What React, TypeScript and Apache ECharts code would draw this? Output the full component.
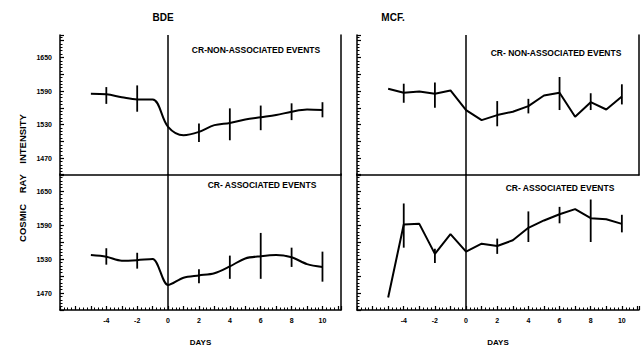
import React, { useEffect, useRef } from "react";
import * as echarts from "echarts";

// ---- data ----
const days = [-5, -4, -3, -2, -1, 0, 1, 2, 3, 4, 5, 6, 7, 8, 9, 10];
const bdeNonAssoc = [1585, 1584, 1579, 1575, 1575, 1526, 1511, 1517, 1529, 1533, 1539, 1543, 1547, 1553, 1557, 1556];
const bdeAssoc = [1537, 1534, 1527, 1528, 1530, 1484, 1497, 1501, 1505, 1517, 1531, 1535, 1537, 1533, 1521, 1516];
const mcfNonAssoc = [1594, 1587, 1589, 1585, 1591, 1556, 1538, 1547, 1553, 1563, 1582, 1587, 1544, 1570, 1557, 1580];
const mcfAssoc = [1462, 1591, 1592, 1539, 1574, 1543, 1557, 1553, 1563, 1585, 1598, 1609, 1618, 1602, 1600, 1592];

const errDays = [-4, -2, 2, 4, 6, 8, 10];
const bdeNonAssocLow = [1567, 1553, 1499, 1502, 1520, 1538, 1543];
const bdeNonAssocHigh = [1597, 1600, 1532, 1559, 1564, 1568, 1570];
const bdeAssocLow = [1520, 1513, 1487, 1495, 1495, 1516, 1490];
const bdeAssocHigh = [1549, 1541, 1512, 1536, 1576, 1550, 1543];
const mcfNonAssocLow = [1569, 1560, 1527, 1550, 1556, 1556, 1566];
const mcfNonAssocHigh = [1603, 1605, 1572, 1576, 1615, 1586, 1602];
const mcfAssocLow = [1550, 1523, 1539, 1560, 1593, 1560, 1577];
const mcfAssocHigh = [1628, 1548, 1566, 1614, 1622, 1635, 1608];

const yTickLabels = [1470, 1530, 1590, 1650];
const xTickLabels = [-4, -2, 0, 2, 4, 6, 8, 10];

const FONT = "Liberation Sans";

export default function App() {
  const ref = useRef<HTMLDivElement>(null);
  useEffect(() => {
    if (!ref.current) return;
    const chart = echarts.init(ref.current, null, { renderer: "svg" });

    const pairs = (vals: number[]) => days.map((d, i) => [d, vals[i]]);
    const errs = (lo: number[], hi: number[]) => errDays.map((d, i) => [d, lo[i], hi[i]]);

    const grids = [
      { left: 60, width: 281, top: 35, height: 140 },
      { left: 60, width: 281, top: 174, height: 136 },
      { left: 357, width: 282, top: 35, height: 140 },
      { left: 357, width: 282, top: 174, height: 136 },
    ];

    const xAxis = grids.map((_, i) => {
      const bottom = i === 1 || i === 3;
      return {
        type: "value",
        gridIndex: i,
        min: -7,
        max: i < 2 ? 11.2 : 11.1,
        interval: 1,
        splitLine: { show: false },
        axisLine: { show: true, onZero: false, lineStyle: { color: "#000", width: 1.5 } },
        axisTick: { show: bottom, inside: true, length: 4, lineStyle: { color: "#000", width: 1.2 } },
        minorTick: { show: bottom, splitNumber: 4, length: 2.5, lineStyle: { color: "#000", width: 1 } },
        axisLabel: {
          show: bottom,
          margin: 7,
          fontSize: 7,
          fontWeight: "bold",
          fontFamily: FONT,
          color: "#000",
          showMinLabel: true,
          showMaxLabel: true,
          formatter: (v: number) => (xTickLabels.includes(v) ? String(v) : ""),
        },
        name: bottom ? "DAYS" : "",
        nameLocation: "middle",
        nameGap: 28,
        nameTextStyle: { fontSize: 8, fontWeight: "bold", fontFamily: FONT, color: "#000" },
      };
    });

    const yAxisLeft = grids.map((_, i) => ({
      type: "value",
      gridIndex: i,
      position: "left",
      min: 1440,
      max: i === 0 || i === 2 ? 1690 : 1680,
      interval: 30,
      splitLine: { show: false },
      axisLine: { show: true, onZero: false, lineStyle: { color: "#000", width: 1.5 } },
      axisTick: { show: true, inside: true, length: 4, lineStyle: { color: "#000", width: 1.2 } },
      minorTick: { show: true, splitNumber: 5, length: 2.5, lineStyle: { color: "#000", width: 1 } },
      axisLabel: {
        show: i < 2,
        margin: 8,
        fontSize: 7,
        fontWeight: "bold",
        fontFamily: FONT,
        color: "#000",
        showMaxLabel: false,
        formatter: (v: number) => (yTickLabels.includes(v) ? String(v) : ""),
      },
    }));

    const yAxisRight = [0, 1, 2].map((g) => ({
      type: "value",
      gridIndex: g,
      position: "right",
      min: 1440,
      max: 1690,
      axisLine: { show: true, onZero: false, lineStyle: { color: "#000", width: 1.5 } },
      axisTick: { show: false },
      axisLabel: { show: false },
      splitLine: { show: false },
    }));

    const lineSeries = (vals: number[], idx: number, smooth: number | boolean) => ({
      type: "line",
      xAxisIndex: idx,
      yAxisIndex: idx,
      data: pairs(vals),
      smooth,
      symbol: "none",
      lineStyle: { color: "#000", width: 2 },
      markLine: {
        silent: true,
        symbol: "none",
        label: { show: false },
        lineStyle: { color: "#000", width: 1.5, type: "solid" },
        data: [{ xAxis: 0 }],
      },
    });

    const errSeries = (lo: number[], hi: number[], idx: number) => ({
      type: "custom",
      xAxisIndex: idx,
      yAxisIndex: idx,
      data: errs(lo, hi),
      renderItem: (_p: any, api: any) => {
        const x = api.value(0);
        const a = api.coord([x, api.value(1)]);
        const b = api.coord([x, api.value(2)]);
        return {
          type: "line",
          shape: { x1: a[0], y1: a[1], x2: b[0], y2: b[1] },
          style: { stroke: "#000", lineWidth: 1.8 },
        };
      },
    });

    const txt = (text: string, x: number, y: number, size: number, extra: any = {}) => ({
      type: "text",
      x,
      y,
      ...extra,
      style: {
        text,
        fill: "#000",
        font: `bold ${size}px "${FONT}"`,
        align: "center",
        verticalAlign: "middle",
      },
    });

    chart.setOption({
      animation: false,
      backgroundColor: "#fff",
      grid: grids,
      xAxis,
      yAxis: [...yAxisLeft, ...yAxisRight],
      series: [
        lineSeries(bdeNonAssoc, 0, 0.35),
        lineSeries(bdeAssoc, 1, 0.3),
        lineSeries(mcfNonAssoc, 2, false),
        lineSeries(mcfAssoc, 3, false),
        errSeries(bdeNonAssocLow, bdeNonAssocHigh, 0),
        errSeries(bdeAssocLow, bdeAssocHigh, 1),
        errSeries(mcfNonAssocLow, mcfNonAssocHigh, 2),
        errSeries(mcfAssocLow, mcfAssocHigh, 3),
      ],
      graphic: [
        txt("BDE", 163, 17, 10),
        txt("MCF.", 393, 17, 10),
        txt("CR-NON-ASSOCIATED EVENTS", 256, 50, 8.5),
        txt("CR- ASSOCIATED EVENTS", 262, 185, 8.5),
        txt("CR- NON-ASSOCIATED EVENTS", 556, 53, 8.5),
        txt("CR- ASSOCIATED EVENTS", 560, 188, 8.5),
        txt("COSMIC    RAY    INTENSITY", 22, 178, 9.5, { rotation: Math.PI / 2 }),
      ],
    });
    return () => chart.dispose();
  }, []);
  return (
    <div
      ref={ref}
      style={{ position: "fixed", left: 0, top: 0, width: 643, height: 353, background: "#fff" }}
    />
  );
}
